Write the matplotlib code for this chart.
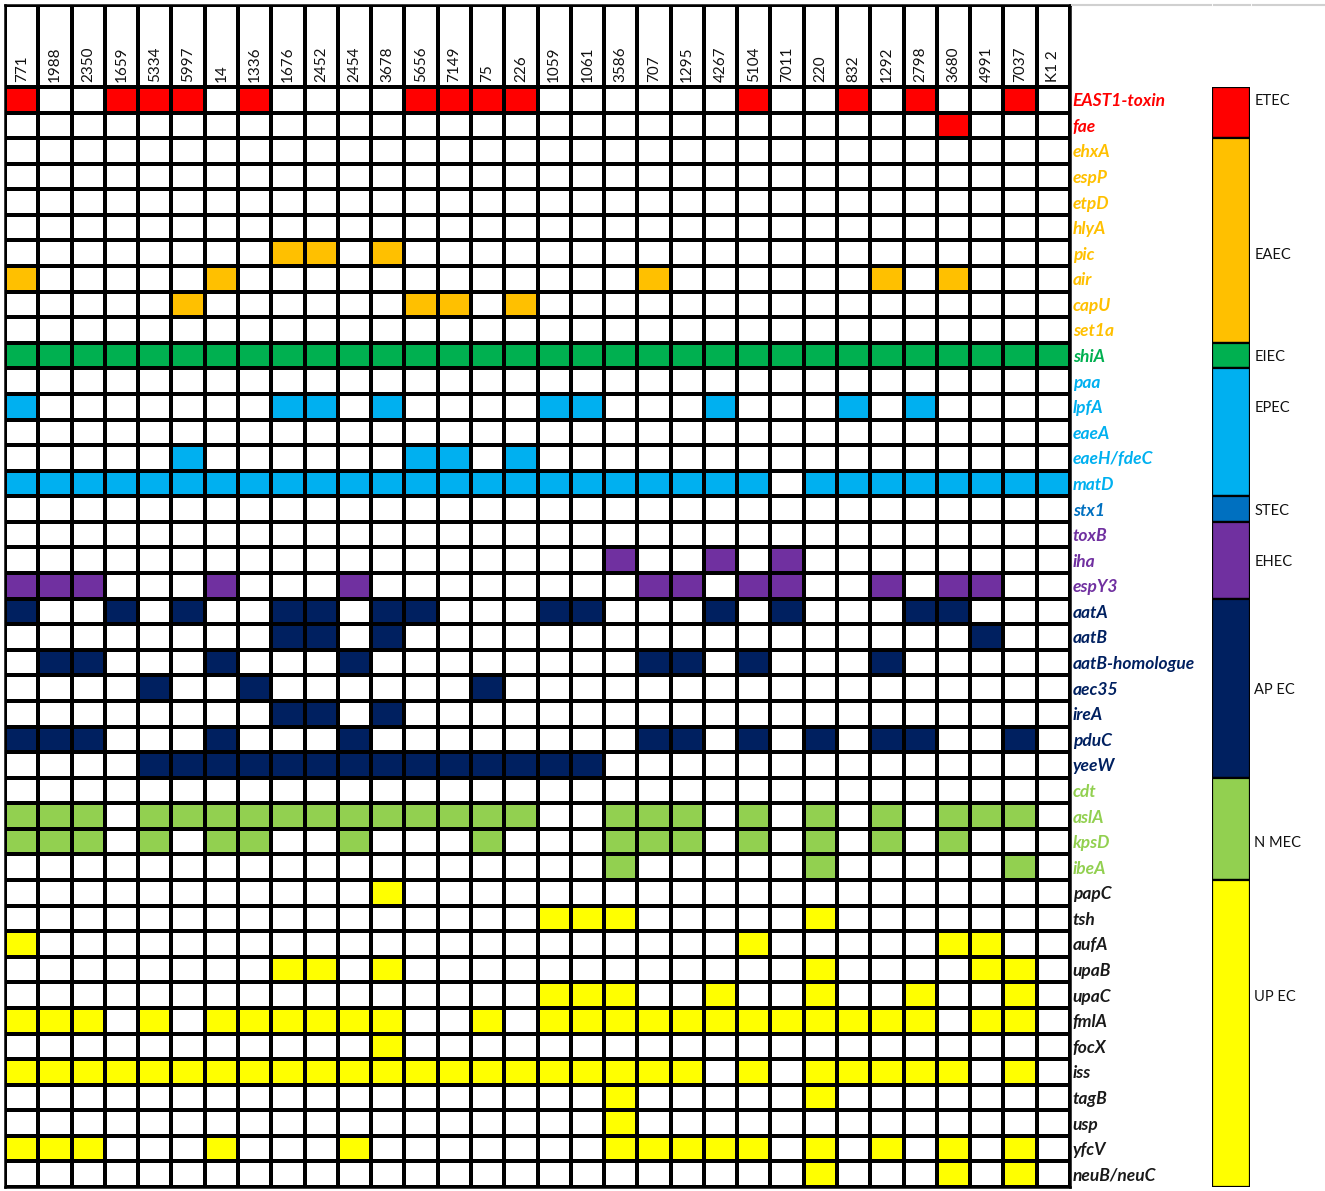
import numpy as np
import matplotlib.pyplot as plt
from matplotlib.colors import to_rgb
from matplotlib.lines import Line2D

# strains (columns) and genes (rows)
strains = ['771', '1988', '2350', '1659', '5334', '5997', '14', '1336', '1676', '2452',
           '2454', '3678', '5656', '7149', '75', '226', '1059', '1061', '3586', '707',
           '1295', '4267', '5104', '7011', '220', '832', '1292', '2798', '3680', '4991',
           '7037', 'K1 2']

genes = ['EAST1-toxin', 'fae', 'ehxA', 'espP', 'etpD', 'hlyA', 'pic', 'air', 'capU', 'set1a',
         'shiA', 'paa', 'lpfA', 'eaeA', 'eaeH/fdeC', 'matD', 'stx1', 'toxB', 'iha', 'espY3',
         'aatA', 'aatB', 'aatB-homologue', 'aec35', 'ireA', 'pduC', 'yeeW', 'cdt', 'aslA',
         'kpsD', 'ibeA', 'papC', 'tsh', 'aufA', 'upaB', 'upaC', 'fmlA', 'focX', 'iss',
         'tagB', 'usp', 'yfcV', 'neuB/neuC']

# presence (1) / absence (0) per gene, one char per strain in the order above
presence = [
    '10011101000011110000001001010010',  # EAST1-toxin
    '00000000000000000000000000001000',  # fae
    '00000000000000000000000000000000',  # ehxA
    '00000000000000000000000000000000',  # espP
    '00000000000000000000000000000000',  # etpD
    '00000000000000000000000000000000',  # hlyA
    '00000000110100000000000000000000',  # pic
    '10000010000000000001000000101000',  # air
    '00000100000011010000000000000000',  # capU
    '00000000000000000000000000000000',  # set1a
    '11111111111111111111111111111111',  # shiA
    '00000000000000000000000000000000',  # paa
    '10000000110100001100010001010000',  # lpfA
    '00000000000000000000000000000000',  # eaeA
    '00000100000011010000000000000000',  # eaeH/fdeC
    '11111111111111111111111011111111',  # matD
    '00000000000000000000000000000000',  # stx1
    '00000000000000000000000000000000',  # toxB
    '00000000000000000010010100000000',  # iha
    '11100010001000000001101100101100',  # espY3
    '10010100110110001100010100011000',  # aatA
    '00000000110100000000000000000100',  # aatB
    '01100010001000000001101000100000',  # aatB-homologue
    '00001001000000100000000000000000',  # aec35
    '00000000110100000000000000000000',  # ireA
    '11100010001000000001101010110010',  # pduC
    '00001111111111111100000000000000',  # yeeW
    '00000000000000000000000000000000',  # cdt
    '11101111111111110011101010101110',  # aslA
    '11101011001000100011101010101000',  # kpsD
    '00000000000000000010000010000010',  # ibeA
    '00000000000100000000000000000000',  # papC
    '00000000000000001110000010000000',  # tsh
    '10000000000000000000001000001100',  # aufA
    '00000000110100000000000010000110',  # upaB
    '00000000000000001110010010010010',  # upaC
    '11101011111100101111111111110110',  # fmlA
    '00000000000100000000000000000000',  # focX
    '11111111111111111111101011111010',  # iss
    '00000000000000000010000010000000',  # tagB
    '00000000000000000010000000000000',  # usp
    '11100010001000000011111010101010',  # yfcV
    '00000000000000000000000010001010',  # neuB/neuC
]

# pathotype groups: name, number of genes, colour, row where the name sits
group_names = ['ETEC', 'EAEC', 'EIEC', 'EPEC', 'STEC', 'EHEC', 'APEC', 'NMEC', 'UPEC']
group_text = ['ETEC', 'EAEC', 'EIEC', 'EPEC', 'STEC', 'EHEC', 'AP EC', 'N MEC', 'UP EC']
group_sizes = [2, 8, 1, 5, 1, 3, 7, 4, 12]
group_label_rows = [0, 6, 10, 12, 16, 18, 23, 29, 35]
group_colors = ['#FF0000', '#FFC000', '#00B050', '#00B0F0', '#0070C0', '#7030A0',
                '#002060', '#92D050', '#FFFF00']
label_colors = ['#FF0000', '#FFC000', '#00B050', '#00B0F0', '#0070C0', '#7030A0',
                '#002060', '#92D050', '#1A1A1A']

W, H = 1325, 1191
fig = plt.figure(figsize=(W / 100, H / 100), dpi=100)


def frac(x0, y0, x1, y1):
    return [x0 / W, 1 - y1 / H, (x1 - x0) / W, (y1 - y0) / H]


row_group = np.repeat(np.arange(len(group_sizes)), group_sizes)
mat = np.array([[int(c) for c in row] for row in presence])
n_rows, n_cols = mat.shape

rgb = np.ones((n_rows, n_cols, 3))
for i in range(n_rows):
    col = to_rgb(group_colors[row_group[i]])
    for j in range(n_cols):
        if mat[i, j]:
            rgb[i, j] = col

head_h = 82 / 25.6  # header height in row units

ax = fig.add_axes(frac(5, 5, 1070, 1187))
ax.pcolormesh(np.arange(n_cols + 1), np.arange(n_rows + 1), rgb,
              edgecolors='black', linewidth=1.6)
ax.pcolormesh(np.arange(n_cols + 1), [-head_h, 0], np.ones((1, n_cols, 3)),
              edgecolors='black', linewidth=1.6)
ax.set_xlim(0, n_cols)
ax.set_ylim(n_rows, -head_h)
for s in ax.spines.values():
    s.set_linewidth(1.8)
ax.set_xticks([])

# strain labels in the header
for j, s in enumerate(strains):
    ax.text(j + 0.5, -0.2, s, rotation=90, ha='center', va='bottom',
            fontsize=11, family='Lato', color='#111111')

# gene labels on the right
ax.yaxis.tick_right()
ax.set_yticks(np.arange(n_rows) + 0.5)
ax.set_yticklabels(genes, fontsize=12.5, family='Lato', style='italic', fontweight='bold')
ax.tick_params(axis='y', length=0, pad=2)
for lab, g in zip(ax.get_yticklabels(), row_group):
    lab.set_color(label_colors[g])

# pathotype colour bar
ax2 = fig.add_axes(frac(1212, 87, 1250, 1187))
bottoms = np.concatenate([[0], np.cumsum(group_sizes)[:-1]])
ax2.bar(0, group_sizes, bottom=bottoms, width=1, color=group_colors,
        edgecolor='black', linewidth=1.6)
ax2.set_xlim(-0.5, 0.5)
ax2.set_ylim(n_rows, 0)
for s in ax2.spines.values():
    s.set_visible(False)
ax2.set_xticks([])
ax2.yaxis.tick_right()
ax2.set_yticks(np.array(group_label_rows) + 0.5)
ax2.set_yticklabels(group_text, fontsize=10.5, family='Lato', color='#111111')
ax2.tick_params(axis='y', length=0, pad=3)

# light sheet gridline along the top
for x0, x1 in [(1072, 1211), (1214, 1250), (1253, 1325)]:
    fig.add_artist(Line2D([x0 / W, x1 / W], [1 - 5 / H, 1 - 5 / H],
                          color='#D0D0D0', linewidth=1.5))

fig.savefig('out.png', dpi=100, facecolor='white')
